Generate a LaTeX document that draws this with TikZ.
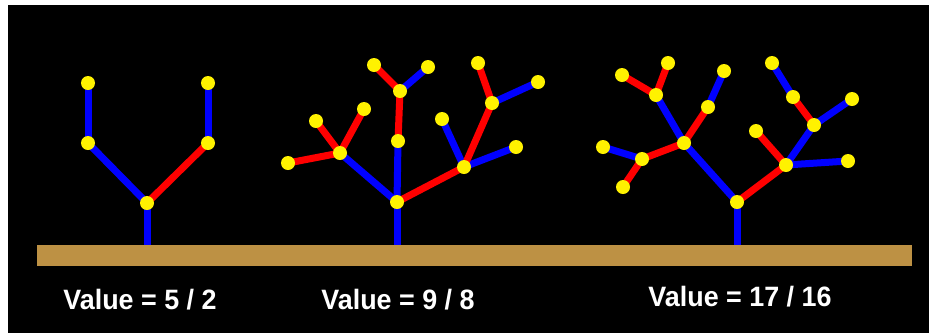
\documentclass[tikz,border=0pt]{standalone}
\usepackage{fontspec}
\setsansfont{Liberation Sans}
\usetikzlibrary{backgrounds}
\definecolor{ground}{RGB}{189,145,68}

\begin{document}
\begin{tikzpicture}[x=1pt, y=-1pt, font=\sffamily\bfseries,
	joint/.style={circle, fill=yellow, inner sep=0pt, minimum size=14pt},
	branch/.style={line width=7pt},
	caption/.style={text=white, anchor=base, font=\sffamily\bfseries\fontsize{28}{30}\selectfont, xscale=0.96}]
	%frame
	\useasboundingbox (0,0) rectangle (929,333);
	%tree 5/2
	\coordinate (a) at (147,246);
	\foreach \n/\x/\y in {0/147/203, 1/88/143, 2/88/83, 3/208/143, 4/208/83}
	\node[joint] (a\n) at (\x,\y) {};
	%tree 9/8
	\coordinate (b) at (397,246);
	\foreach \n/\x/\y in {
		0/397/202,
		1/398/141,
		2/400/91,
		3/374/65,
		4/428/67,
		5/340/153,
		6/288/163,
		7/316/121,
		8/364/109,
		9/464/167,
		10/442/119,
		11/516/147,
		12/492/103,
		13/478/63,
		14/538/82
	}
	\node[joint] (b\n) at (\x,\y) {};
	%tree 17/16
	\coordinate (c) at (737,246);
	\foreach \n/\x/\y in {
		0/737/202,
		1/684/143,
		2/656/95,
		3/622/75,
		4/668/63,
		5/708/107,
		6/724/71,
		7/642/159,
		8/603/147,
		9/623/187,
		10/786/165,
		11/756/131,
		12/848/161,
		13/814/125,
		14/793/97,
		15/772/63,
		16/852/99
	}
	\node[joint] (c\n) at (\x,\y) {};
	\begin{pgfonlayer}{background}
		%black panel and ground
		\fill[white] (0,0) rectangle (929,333);
		\fill[black] (8,5) rectangle (929,333);
		%branches
		\foreach \s/\t in {a/a0, a0/a1, a1/a2, a3/a4,
			b/b0, b0/b1, b2/b4, b0/b5, b9/b10, b9/b11, b12/b14,
			c/c0, c0/c1, c1/c2, c5/c6, c7/c8, c10/c12, c10/c13, c14/c15, c13/c16}
		\draw[branch, blue] (\s.center) -- (\t.center);
		\foreach \s/\t in {a0/a3,
			b1/b2, b2/b3, b5/b6, b5/b7, b5/b8, b0/b9, b9/b12, b12/b13,
			c2/c3, c2/c4, c1/c5, c1/c7, c7/c9, c0/c10, c10/c11, c13/c14}
		\draw[branch, red] (\s.center) -- (\t.center);
		\fill[ground] (37,245) rectangle (912,266);
	\end{pgfonlayer}
	%labels
	\node[caption] (lab1) at (140,309) {Value = 5 / 2};
	\node[caption] (lab2) at (398,309) {Value = 9 / 8};
	\node[caption] (lab3) at (740,306) {Value = 17 / 16};
\end{tikzpicture}
\end{document}
